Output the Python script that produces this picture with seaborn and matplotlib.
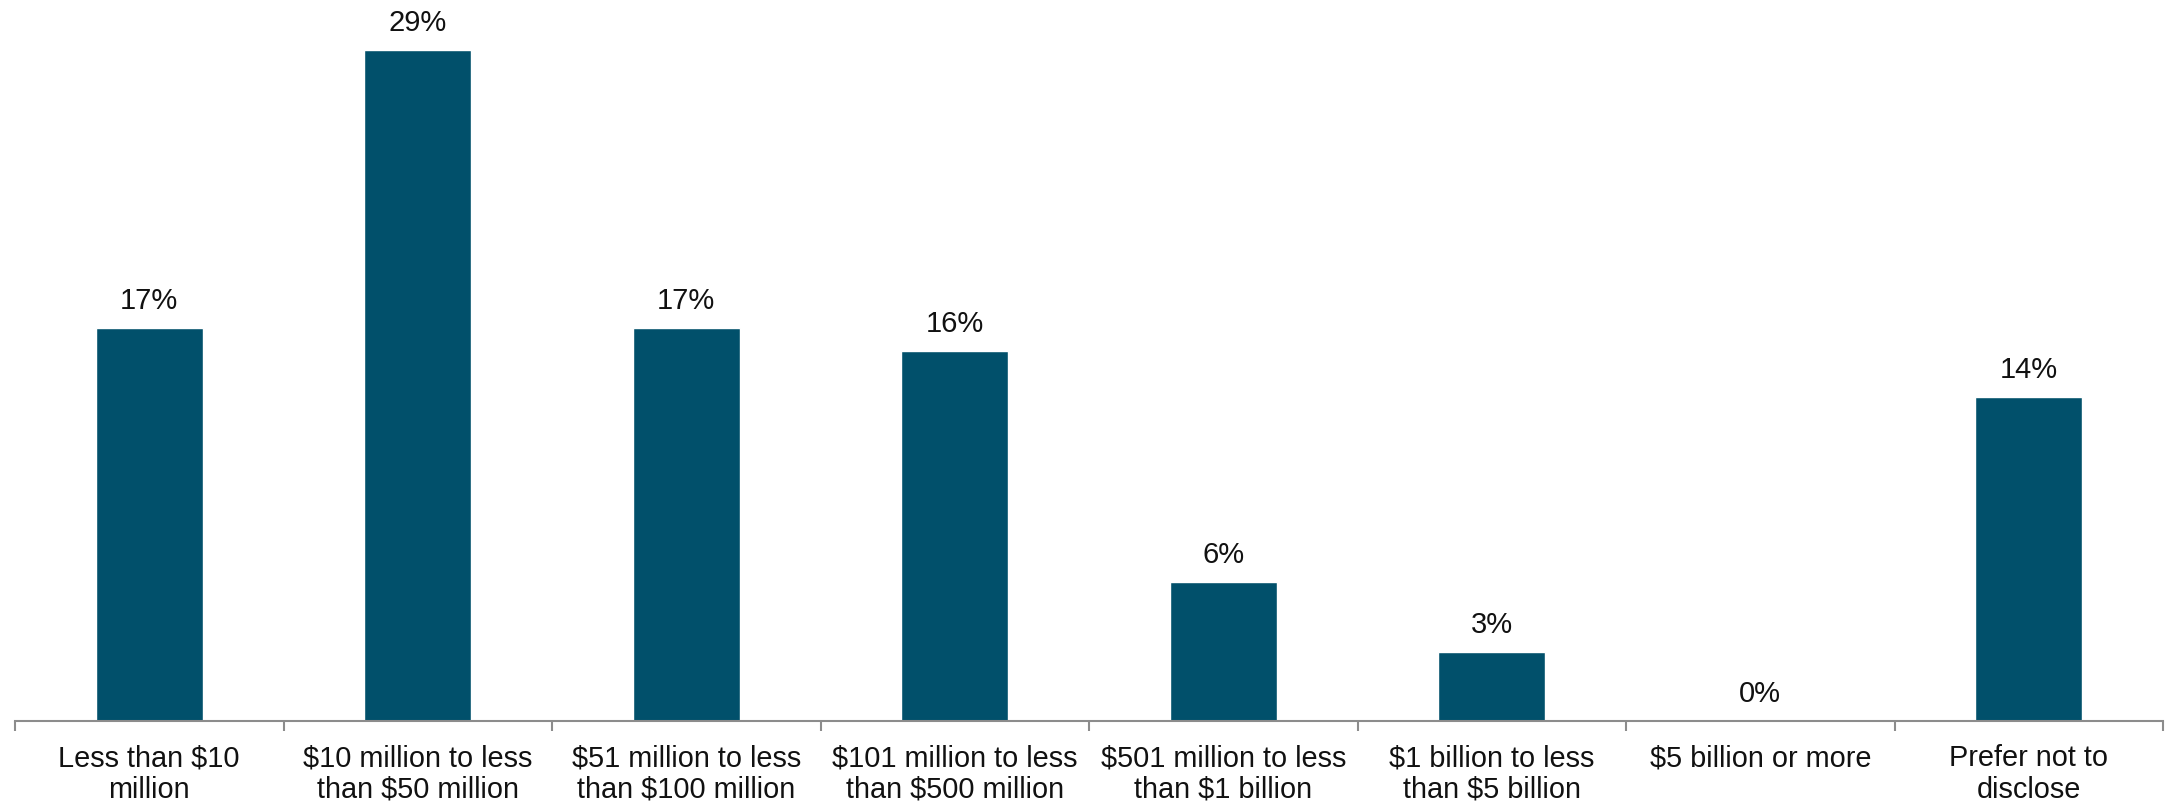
import matplotlib
matplotlib.use("Agg")
import matplotlib.pyplot as plt
import seaborn as sns
import pandas as pd
import numpy as np

categories = [
    "Less than $10\nmillion",
    "$10 million to less\nthan $50 million",
    "$51 million to less\nthan $100 million",
    "$101 million to less\nthan $500 million",
    "$501 million to less\nthan $1 billion",
    "$1 billion to less\nthan $5 billion",
    "$5 billion or more",
    "Prefer not to\ndisclose",
]
values = [17, 29, 17, 16, 6, 3, 0, 14]

sns.set_theme(style="white")
plt.rcParams["font.family"] = ["Liberation Sans", "DejaVu Sans"]

df = pd.DataFrame({"category": categories, "share": values})

fig = plt.figure(figsize=(21.65, 8.04), dpi=100)
ax = fig.add_axes([15 / 2165, 1 - 722 / 804, 2148 / 2165, 722 / 804])

sns.barplot(data=df, x="category", y="share", color="#01506b", width=0.4,
            saturation=1, ax=ax)

ax.set_xlim(-0.5, len(categories) - 0.5)
ax.set_ylim(0, 31.2)

for c in ax.containers:
    ax.bar_label(c, labels=[f"{v}%" for v in values], padding=10,
                 fontsize=21, color="#111111")

ax.set_xlabel("")
ax.set_ylabel("")
ax.set_yticks([])
for s in ("left", "top", "right"):
    ax.spines[s].set_visible(False)
ax.spines["bottom"].set_color("#8c8c8c")
ax.spines["bottom"].set_linewidth(1.5)

ax.tick_params(axis="x", which="major", bottom=False, length=0, pad=16,
               labelsize=20.8, labelcolor="#111111")
ax.set_xticks(np.arange(-0.5, len(categories), 1.0), minor=True)
ax.tick_params(axis="x", which="minor", bottom=True, length=7.5, width=1.5,
               color="#8c8c8c", direction="out")
for lbl in ax.get_xticklabels():
    lbl.set_linespacing(1.17)

fig.savefig("out.png", dpi=100)
